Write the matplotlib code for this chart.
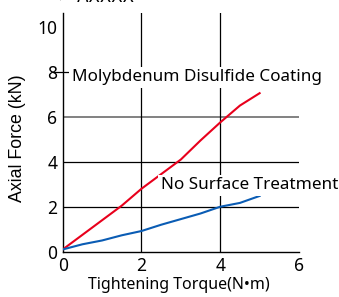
import matplotlib
matplotlib.use("Agg")
import matplotlib.pyplot as plt

plt.rcParams['font.family'] = ['Noto Sans', 'Noto Sans CJK JP', 'DejaVu Sans']

torque = [0, 0.5, 1, 1.5, 2, 2.5, 3, 3.5, 4, 4.5, 5]
moly = [0.1, 0.75, 1.4, 2.05, 2.8, 3.45, 4.1, 4.95, 5.75, 6.5, 7.05]
plain = [0.1, 0.33, 0.5, 0.73, 0.92, 1.2, 1.45, 1.7, 2.0, 2.17, 2.48]
xticks = [0, 2, 4, 6]
yticks = [0, 2, 4, 6, 8, 10]

fig = plt.figure(figsize=(3.39, 2.97), dpi=100)
ax = fig.add_axes([0.185, 0.1525, 0.697, 0.8025])
ax.set_xlim(0, 6)
ax.set_ylim(0, 10.6)

for y in [2, 4]:
    ax.axhline(y, color='black', lw=0.9, zorder=1)
ax.axhline(6, color='#777777', lw=1.3, zorder=1)
ax.plot([-0.23, 6], [8, 8], color='black', lw=0.9, zorder=1, clip_on=False)
for x in [2, 4]:
    ax.axvline(x, color='black', lw=0.9, zorder=1)

ax.plot(torque, moly, color='#e8001c', lw=1.5, zorder=3)
ax.plot(torque, plain, color='#0a5cb4', lw=1.5, zorder=3)

ax.text(0.23, 7.75, 'Molybdenum Disulfide Coating', fontsize=12.3, va='center', ha='left',
        bbox=dict(facecolor='white', edgecolor='none', pad=2), zorder=4, clip_on=False)
ax.text(2.5, 2.95, 'No Surface Treatment', fontsize=12.3, va='center', ha='left',
        bbox=dict(facecolor='white', edgecolor='none', pad=2), zorder=4, clip_on=False)

for s in ['top', 'right']:
    ax.spines[s].set_visible(False)
for s in ['left', 'bottom']:
    ax.spines[s].set_color('black')
    ax.spines[s].set_linewidth(1.0)
ax.set_xticks(xticks)
ax.set_yticks(yticks)
ax.tick_params(length=0, labelsize=12.5, pad=4)

fig.text(179/339, 1 - 285/297, 'Tightening Torque(N•m)', fontsize=11.5,
         ha='center', va='center')
fig.text(18/339, 1 - 138.5/297, 'Axial Force (kN)', fontsize=12.8, rotation=90,
         ha='center', va='center', family=['Liberation Sans'])

fig.text(58/339, 1 + 2.5/297, '➢ AXXXX', fontsize=12, va='center', ha='left',
         family=['DejaVu Sans'])

fig.savefig('out.png', dpi=100)
